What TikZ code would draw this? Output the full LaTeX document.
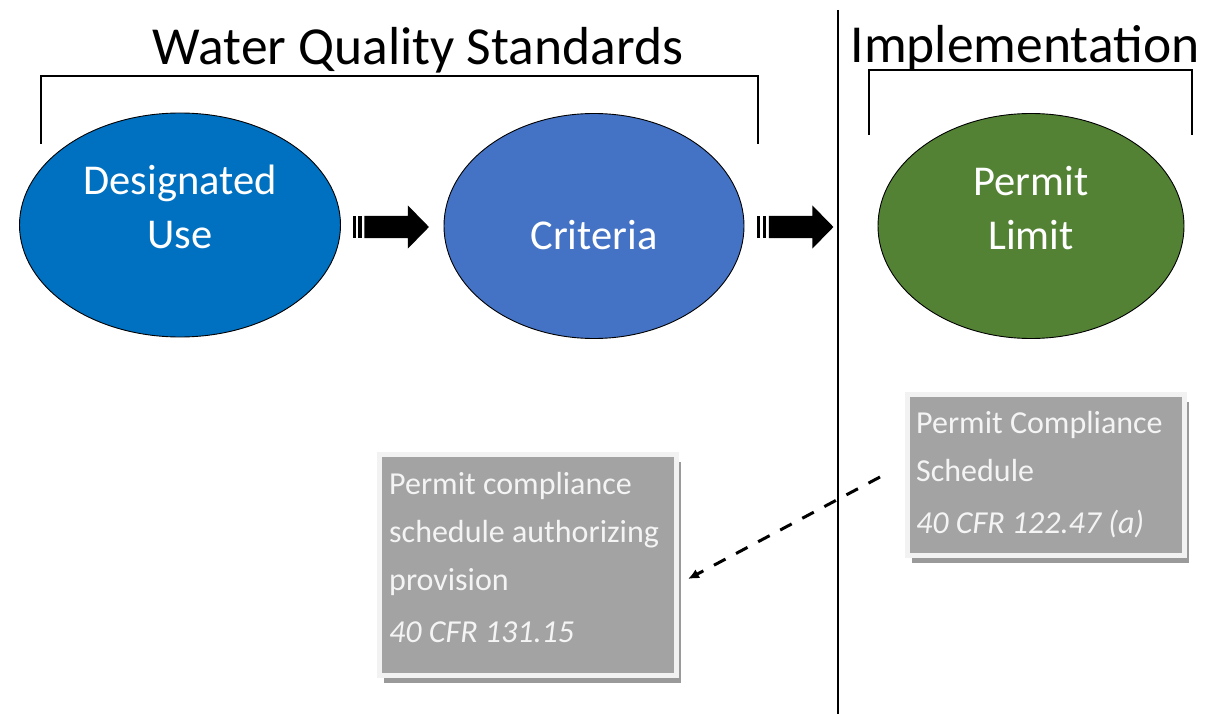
\documentclass[tikz,border=0pt]{standalone}
\usepackage{fontspec}
\setmainfont{Carlito}
\usetikzlibrary{shapes.geometric,arrows.meta,shadows}
\definecolor{duse}{HTML}{0070C0}
\definecolor{crit}{HTML}{4472C4}
\definecolor{perm}{HTML}{548235}
\definecolor{boxgray}{HTML}{A3A3A3}
\definecolor{boxedge}{HTML}{F2F2F2}
\definecolor{boxshadow}{HTML}{9A9A9A}
\definecolor{boxtext}{HTML}{F4F4F4}
\tikzset{
  oval/.style={ellipse, draw=black, line width=0.9pt, inner sep=0pt},
  ovaltext/.style={text=white, align=center, inner sep=0pt, font=\fontsize{42.5}{54}\selectfont},
  headtext/.style={inner sep=0pt, font=\fontsize{53.5}{60}\selectfont},
  bracket/.style={line width=2pt},
  infobox/.style={rectangle, fill=boxgray, draw=boxedge, line width=5pt, inner sep=0pt,
    drop shadow={shadow xshift=4pt, shadow yshift=-7pt, fill=boxshadow, opacity=1}},
  infotext/.style={text=boxtext, align=left, inner sep=0pt, font=\fontsize{32}{48}\selectfont},
  dasharrow/.style={line width=3pt, dash pattern=on 13pt off 12pt, -{Latex[length=11pt,width=10pt]}},
  fatarrow/.pic={
    \fill (0,-11) rectangle (3,11);
    \fill (5.5,-11) rectangle (9,11);
    \fill (11.5,-11) -- (55,-11) -- (55,-21.5) -- (76,0) -- (55,21.5) -- (55,11) -- (11.5,11) -- cycle;
  }
}
\begin{document}
\begin{tikzpicture}[x=1pt,y=-1pt]
\useasboundingbox (0,0) rectangle (1223,714);

% headings and brackets
\node[headtext, anchor=base] (wqs) at (418,65) {Water Quality Standards};
\node[headtext, anchor=base] (impl) at (1025,63) {Implementation};
\draw[bracket] (41,144) -- (41,76) -- (758,76) -- (758,144);
\draw[bracket] (869,135) -- (869,70) -- (1192,70) -- (1192,135);

% separator
\draw[line width=2.7pt] (838,10) -- (838,714);

% ellipses
\node[oval, fill=duse, minimum width=321pt, minimum height=224pt] (du) at (180,225) {};
\node[oval, fill=crit, minimum width=300pt, minimum height=225pt] (cr) at (594,226) {};
\node[oval, fill=perm, minimum width=306pt, minimum height=225pt] (pl) at (1031,226) {};

\node[ovaltext, anchor=base] (dut) at (180,248) {Designated\\Use};
\node[ovaltext, anchor=base] (crt) at (594,249) {Criteria};
\node[ovaltext, anchor=base] (plt) at (1031,249) {Permit\\Limit};

% block arrows
\pic at ([xshift=12pt,yshift=-2pt]du.east) {fatarrow};
\pic at ([xshift=13pt,yshift=-1pt]cr.east) {fatarrow};

% info boxes
\node[infobox, minimum width=277pt, minimum height=161pt] (b1) at (1046,475) {};
\node[infotext, anchor=base west] (b1t) at (916,533) {Permit Compliance\\Schedule\\[4pt]\textit{40 CFR 122.47 (a)}};

\node[infobox, minimum width=297pt, minimum height=221pt] (b2) at (528,565) {};
\node[infotext, anchor=base west] (b2t) at (389,642) {Permit compliance\\schedule authorizing\\provision\\[4pt]\textit{40 CFR 131.15}};

% dashed connector
\coordinate (dsrc) at ([xshift=-25pt,yshift=-2pt]b1.west);
\coordinate (ddst) at ([xshift=9pt,yshift=-14pt]b2.east);
\draw[dasharrow] (dsrc) -- (ddst);
\end{tikzpicture}
\end{document}
